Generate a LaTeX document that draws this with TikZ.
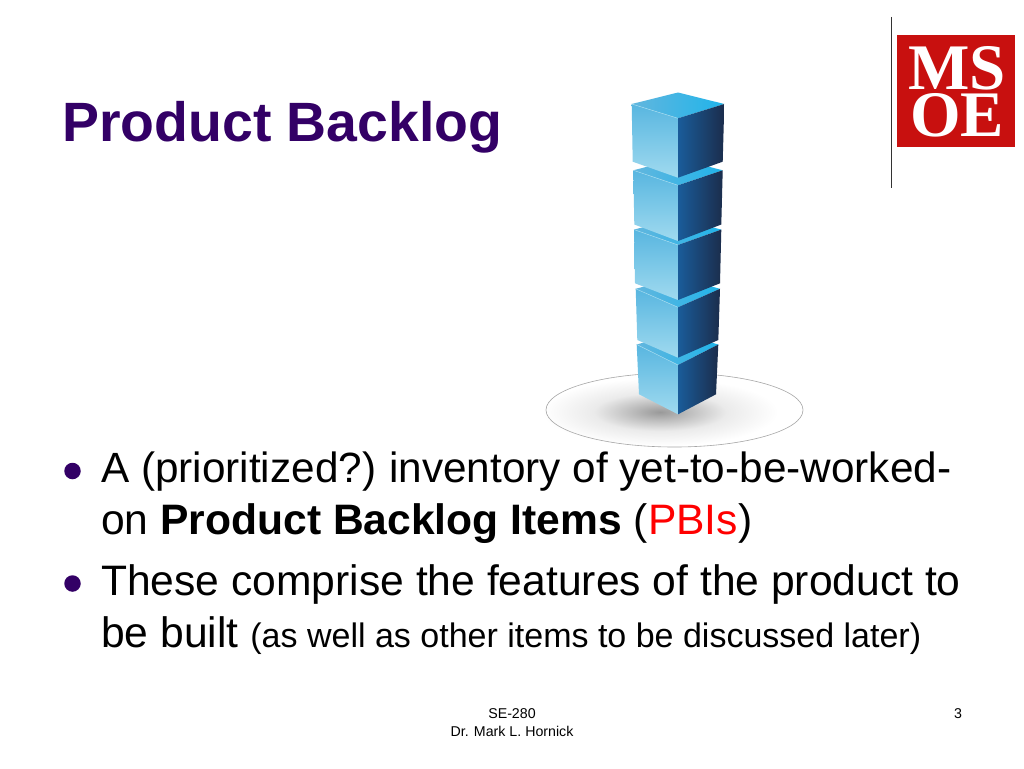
\documentclass[tikz,border=0pt]{standalone}
\usepackage{fontspec}
\setmainfont{Liberation Sans}
\newfontfamily\logofont{Liberation Serif}
\definecolor{titlepurple}{HTML}{330066}
\definecolor{logored}{HTML}{C8100F}
\definecolor{frontlow}{HTML}{A0DAEF}
\definecolor{fronthigh}{HTML}{58B6E0}
\definecolor{sidelight}{HTML}{1A5C9A}
\definecolor{sidedark}{HTML}{1B2D4C}
\definecolor{toplight}{HTML}{62B6DE}
\definecolor{topbright}{HTML}{20B4EA}
\pgfdeclareradialshading{plateshadow}{\pgfpointorigin}{
    rgb(0bp)=(0.60,0.60,0.60);
    rgb(6bp)=(0.74,0.74,0.74);
    rgb(14bp)=(0.92,0.92,0.92);
    rgb(25bp)=(1,1,1);
    rgb(50bp)=(1,1,1)}
\begin{document}
\begin{tikzpicture}[x=1pt,y=-1pt,
            title node/.style={anchor=base west,font=\fontsize{55.4}{55.4}\selectfont\bfseries,text=titlepurple,inner sep=0pt},
            body node/.style={anchor=base west,font=\fontsize{42.6}{42.6}\selectfont,inner sep=0pt},
            foot node/.style={anchor=base,font=\fontsize{14.2}{14.2}\selectfont,inner sep=0pt},
            logo node/.style={align=center,font=\logofont\bfseries\fontsize{65}{47}\selectfont,text=white,inner sep=0pt},
            bullet/.style={circle,fill=titlepurple,minimum size=16.5pt,inner sep=0pt}]

        % Fix the page
        \fill[white] (0,0) rectangle (1024,768);
        \useasboundingbox (0,0) rectangle (1024,768);

        % Define logo
        \draw[line width=1.3pt,black!80] (891.7,17) -- (891.7,188);
        \fill[logored] (897,35) rectangle (1015,147);
        \node[logo node] (logo) at (957,92) {MS\\OE};

        % Define plate and its shadow
        \shade[shading=plateshadow] (660,412) ellipse (118 and 34);
        \draw[black!35,line width=0.6pt] (674.5,410) ellipse (128.5 and 37);

        % Draw blocks, lowest first
        \foreach \lx/\rx/\ty/\cy/\by/\lbx/\rbx/\bly in {
            636.7/718.3/344.5/365/414.3/639/716/394.3,
            635.7/720/288.8/307.3/357.7/637.3/718.3/340,
            634/721.3/229.6/245/300/635/720/283.3,
            633.3/722.7/170.3/185.3/241/634.3/721.3/224.5,
            631.7/724.3/104/118.3/177.7/632.7/722.7/161.7} {
            \shade[left color=toplight,right color=topbright]
                (\lx,\ty) -- (678,\ty-11.5) -- (\rx,\ty) -- (678,\cy) -- cycle;
            \shade[top color=fronthigh,bottom color=frontlow]
                (\lx,\ty) -- (678,\cy) -- (678,\by) -- (\lbx,\bly) -- cycle;
            \shade[left color=sidelight,right color=sidedark]
                (678,\cy) -- (\rx,\ty) -- (\rbx,\bly) -- (678,\by) -- cycle;
            \draw[frontlow,line width=0.5pt] (\lx,\ty) -- (678,\cy);
        }

        % Define texts
        \node[title node] (title) at (62,141) {Product Backlog};
        \node[bullet] (bullet1) at (72.5,471) {};
        \node[body node] (line1) at (101,482) {\fontsize{42.3}{42.3}\selectfont A (prioritized?)\kern-2.5pt{} inventory of yet-to-be-worked-};
        \node[body node] (line2) at (101,534) {on \textbf{Product Backlog Items} ({\color{red}PBIs})};
        \node[bullet] (bullet2) at (72.5,583.5) {};
        \node[body node] (line3) at (101,595) {These comprise the features of the product to};
        \node[body node] (line4) at (101,647) {be built {\fontsize{34}{34}\selectfont (as well as other items to be discussed later)}};
        \node[foot node] (course) at (512,718) {SE-280};
        \node[foot node] (teacher) at (512,736) {Dr. Mark L. Hornick};
        \node[foot node] (page) at (958,718) {3};

\end{tikzpicture}
\end{document}
